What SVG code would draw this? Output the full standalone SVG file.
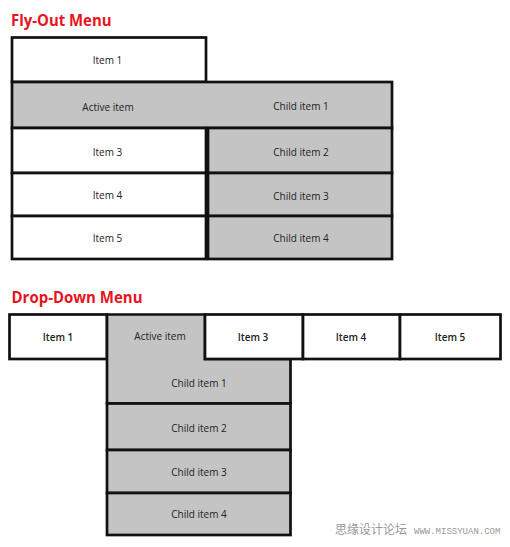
<svg xmlns="http://www.w3.org/2000/svg" width="510" height="547" viewBox="0 0 510 547">
<style>
.box{stroke:#111;stroke-width:2.7;fill:#fff}
.act{stroke:#111;stroke-width:2.7;fill:#c4c4c4}
.t{font-family:"Open Sans","Liberation Sans",sans-serif;font-size:10px;fill:#222;text-anchor:middle}
.b{font-weight:600}
.title{font-family:"Open Sans","Liberation Sans",sans-serif;font-size:16.3px;font-weight:bold;fill:#e8141b}
</style>
<rect width="510" height="547" fill="#fff"/>
<text class="title" x="11" y="26" textLength="100.5" lengthAdjust="spacingAndGlyphs">Fly-Out Menu</text>
<g id="fly-item1"><rect class="box" x="12" y="37.5" width="194" height="44.5"/><text class="t" x="107.5" y="64">Item 1</text></g>
<g id="fly-active"><rect class="act" x="12" y="82" width="380" height="46"/><text class="t" x="108" y="110.5">Active item</text><text class="t" x="301" y="110">Child item 1</text></g>
<g id="fly-item3"><rect class="box" x="12" y="128" width="194" height="45"/><text class="t" x="107.5" y="156">Item 3</text></g>
<g id="fly-item4"><rect class="box" x="12" y="173" width="194" height="43"/><text class="t" x="107.5" y="199">Item 4</text></g>
<g id="fly-item5"><rect class="box" x="12" y="216" width="194" height="43"/><text class="t" x="107.5" y="242">Item 5</text></g>
<g id="fly-child2"><rect class="act" x="208" y="128" width="184" height="45"/><text class="t" x="301" y="156">Child item 2</text></g>
<g id="fly-child3"><rect class="act" x="208" y="173" width="184" height="43"/><text class="t" x="301" y="200">Child item 3</text></g>
<g id="fly-child4"><rect class="act" x="208" y="216" width="184" height="43"/><text class="t" x="301" y="242">Child item 4</text></g>

<text class="title" x="11.5" y="302.7" textLength="131" lengthAdjust="spacingAndGlyphs">Drop-Down Menu</text>
<g id="dd-item1"><rect class="box" x="9.5" y="314.5" width="97.5" height="44.5"/><text class="t b" x="58" y="341">Item 1</text></g>
<g id="dd-active"><path class="act" d="M107,314.5 H205 V359 H290.5 V403.5 H107 Z"/><text class="t" x="160" y="340">Active item</text><text class="t" x="199" y="386.5">Child item 1</text></g>
<g id="dd-item3"><rect class="box" x="205" y="314.5" width="98" height="44.5"/><text class="t b" x="253" y="341">Item 3</text></g>
<g id="dd-item4"><rect class="box" x="303" y="314.5" width="97" height="44.5"/><text class="t b" x="351" y="341">Item 4</text></g>
<g id="dd-item5"><rect class="box" x="400" y="314.5" width="100.5" height="44.5"/><text class="t b" x="450" y="341">Item 5</text></g>
<g id="dd-child2"><rect class="act" x="107" y="403.5" width="183.5" height="46.5"/><text class="t" x="199" y="432">Child item 2</text></g>
<g id="dd-child3"><rect class="act" x="107" y="450" width="183.5" height="43"/><text class="t" x="199" y="476">Child item 3</text></g>
<g id="dd-child4"><rect class="act" x="107" y="493" width="183.5" height="42"/><text class="t" x="199" y="518">Child item 4</text></g>

<g id="watermark" fill="#999">
<text x="335" y="534" font-family="'Noto Sans CJK SC',sans-serif" font-size="12">思缘设计论坛</text>
<text x="414" y="534" font-family="'Liberation Mono',monospace" font-size="9">WWW.MISSYUAN.COM</text>
</g>
<g id="connectors"/>
</svg>
